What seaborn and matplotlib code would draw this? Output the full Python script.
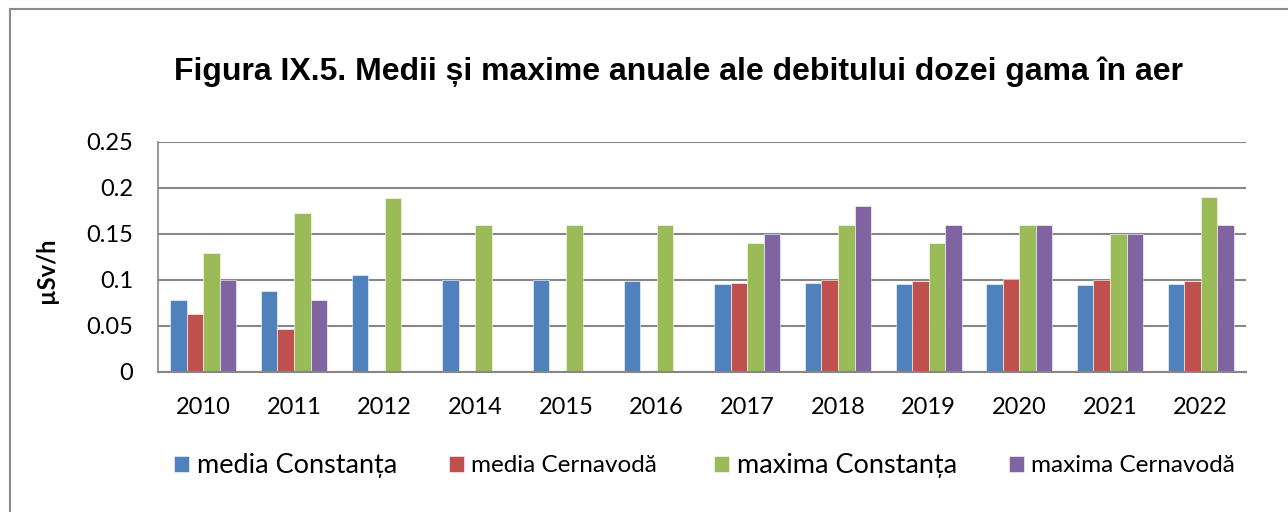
import numpy as np
import pandas as pd
import matplotlib
matplotlib.use("Agg")
import matplotlib.pyplot as plt
from matplotlib.lines import Line2D
import seaborn as sns

years = ["2010", "2011", "2012", "2014", "2015", "2016", "2017", "2018", "2019", "2020", "2021", "2022"]
series_names = ["media Constanța", "media Cernavodă", "maxima Constanța", "maxima Cernavodă"]
media_constanta = [0.078, 0.088, 0.105, 0.100, 0.100, 0.099, 0.096, 0.097, 0.096, 0.096, 0.095, 0.096]
media_cernavoda = [0.063, 0.047, np.nan, np.nan, np.nan, np.nan, 0.097, 0.100, 0.099, 0.101, 0.100, 0.099]
maxima_constanta = [0.129, 0.173, 0.189, 0.160, 0.160, 0.160, 0.140, 0.160, 0.140, 0.160, 0.150, 0.190]
maxima_cernavoda = [0.100, 0.078, np.nan, np.nan, np.nan, np.nan, 0.150, 0.180, 0.160, 0.160, 0.150, 0.160]
colors = ["#4F81BD", "#C0504D", "#9BBB59", "#8064A2"]
y_ticks = [0, 0.05, 0.1, 0.15, 0.2, 0.25]
y_tick_labels = ["0", "0.05", "0.1", "0.15", "0.2", "0.25"]

rows = []
for name, vals in zip(series_names, [media_constanta, media_cernavoda, maxima_constanta, maxima_cernavoda]):
    for yr, v in zip(years, vals):
        rows.append({"year": yr, "series": name, "value": v})
df = pd.DataFrame(rows)

sns.set_style("white")
plt.rcParams["font.family"] = ["Lato", "DejaVu Sans"]
plt.rcParams["text.color"] = "black"
plt.rcParams["xtick.color"] = "black"
plt.rcParams["ytick.color"] = "black"

W, H = 1288, 512
fig = plt.figure(figsize=(W / 100, H / 100), dpi=100)
ax = fig.add_axes([158 / W, 1 - 372 / H, (1246 - 158) / W, (372 - 142) / H])

sns.barplot(data=df, x="year", y="value", hue="series", order=years, hue_order=series_names,
            palette=colors, errorbar=None, width=0.73, ax=ax, legend=True,
            edgecolor="white", linewidth=0.4, saturation=1)

grid_c = "#868686"
ax.set_ylim(0, 0.25)
ax.set_xlim(-0.5, len(years) - 0.5)
ax.set_yticks(y_ticks)
ax.set_yticklabels(y_tick_labels)
ax.yaxis.grid(True, color=grid_c, linewidth=1.5)
ax.set_axisbelow(True)
ax.set_xlabel("")
ax.set_ylabel("")
for s in ["top", "right"]:
    ax.spines[s].set_visible(False)
ax.spines["left"].set_color(grid_c)
ax.spines["left"].set_linewidth(1.2)
ax.spines["bottom"].set_color(grid_c)
ax.spines["bottom"].set_linewidth(1.5)
ax.tick_params(axis="y", length=3, color=grid_c, direction="out", pad=15, labelsize=17, labelcolor="black")
ax.tick_params(axis="x", length=0, pad=18, labelsize=17, labelcolor="black")

# legend: one entry per legend box, placed like the reference
handles, labels = ax.get_legend_handles_labels()
ax.get_legend().remove()
leg_x = [174, 449, 714, 1009]
leg_sizes = [19.5, 17.5, 19.5, 17.5]
for h, l, x, s in zip(handles, labels, leg_x, leg_sizes):
    fig.legend([h], [l], loc="center left", bbox_to_anchor=(x / W, 1 - 466 / H),
               frameon=False, borderpad=0, borderaxespad=0, handlelength=15 / (s * 100 / 72),
               handleheight=15 / (s * 100 / 72), handletextpad=0.3, fontsize=s)

fig.text(679 / W, 1 - 72 / H, "Figura IX.5. Medii și maxime anuale ale debitului dozei gama în aer",
         ha="center", va="center", fontsize=23, fontweight="bold", family="Liberation Sans", color="black")
fig.text(46 / W, 1 - 270 / H, "µSv/h", rotation=90, ha="center", va="center",
         fontsize=17, fontweight="bold", color="black")

# outer chart border
fig.add_artist(Line2D([9.5 / W, 9.5 / W], [0, 1 - 8.5 / H], color="#8a8a8a", linewidth=1.5, transform=fig.transFigure))
fig.add_artist(Line2D([9.5 / W, 1], [1 - 8.5 / H, 1 - 8.5 / H], color="#8a8a8a", linewidth=1.5, transform=fig.transFigure))

fig.savefig("out.png", dpi=100)
